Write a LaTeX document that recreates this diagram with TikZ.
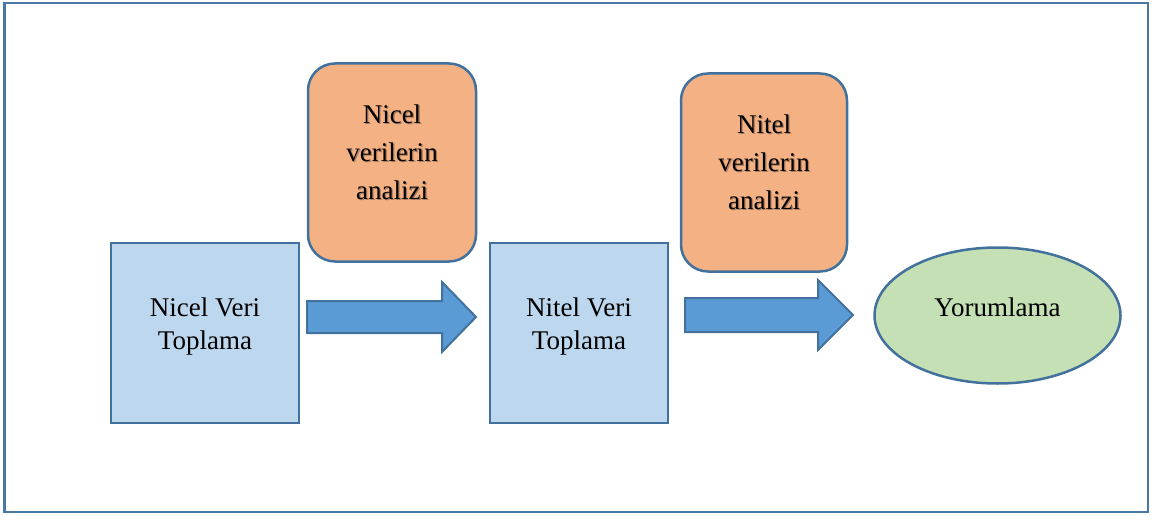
\documentclass[tikz,border=0pt]{standalone}
\usepackage{fontspec}
\setmainfont{Liberation Serif}
\usetikzlibrary{calc,shapes.geometric}

\definecolor{edgeblue}{HTML}{41719C}
\definecolor{frameblue}{HTML}{4A78A6}
\definecolor{boxblue}{HTML}{BDD7EE}
\definecolor{boxorange}{HTML}{F4B183}
\definecolor{arrowblue}{HTML}{5B9BD5}
\definecolor{ovalgreen}{HTML}{C5E0B4}

\tikzset{
  every node/.style={inner sep=0pt, outer sep=0pt},
  collectbox/.style={draw=edgeblue, line width=2.5pt, fill=boxblue, rectangle},
  analysisbox/.style={draw=edgeblue, line width=2.5pt, fill=boxorange, rectangle, rounded corners=27pt},
  resultoval/.style={draw=edgeblue, line width=2.5pt, fill=ovalgreen, ellipse},
  blockarrow/.style={draw=edgeblue, line width=2pt, fill=arrowblue, line join=miter},
  twoline/.style={align=center, font=\fontsize{27}{33}\selectfont},
  threeline/.style={align=center, font=\fontsize{27}{38}\selectfont},
  shade/.style={text=black, opacity=0.3},
}

\begin{document}
\begin{tikzpicture}[x=1pt, y=-1pt]
  \useasboundingbox (0,0) rectangle (1154,516);
  % outer frame
  \draw[frameblue, line width=2.5pt] (4.5,3) rectangle (1148,512);

  % shapes
  \node[collectbox, minimum width=188pt, minimum height=180pt] (b1) at (205,333) {};
  \node[collectbox, minimum width=178pt, minimum height=180pt] (b2) at (579,333) {};
  \node[analysisbox, minimum width=168pt, minimum height=198pt] (o1) at (392,162.5) {};
  \node[analysisbox, minimum width=166pt, minimum height=198pt] (o2) at (764,172.5) {};
  \node[resultoval, minimum width=246pt, minimum height=136pt] (ov) at (997.5,315.5) {};

  % block arrows between the stages (start at the top-left corner of the shaft)
  \draw[blockarrow] ($(b1.east)+(8,-32)$) coordinate (a1)
     -- ++(135,0) -- ++(0,-19) -- ++(34,35) -- ++(-34,35) -- ++(0,-19) -- ++(-135,0) -- cycle;
  \draw[blockarrow] ($(b2.east)+(17,-35)$) coordinate (a2)
     -- ++(133,0) -- ++(0,-18) -- ++(35,35) -- ++(-35,35) -- ++(0,-18) -- ++(-133,0) -- cycle;

  % labels
  \node[twoline] (t1) at ($(b1)+(0,-7)$) {\strut Nicel Veri\\\strut Toplama};
  \node[twoline] (t2) at ($(b2)+(0,-7)$) {\strut Nitel Veri\\\strut Toplama};

  \node[threeline, shade] (s3) at ($(o1)+(1.3,-7.7)$) {\strut Nicel\\\strut verilerin\\\strut analizi};
  \node[threeline] (t3) at ($(o1)+(0,-9)$) {\strut Nicel\\\strut verilerin\\\strut analizi};
  \node[threeline, shade] (s4) at ($(o2)+(1.3,-7.7)$) {\strut Nitel\\\strut verilerin\\\strut analizi};
  \node[threeline] (t4) at ($(o2)+(0,-9)$) {\strut Nitel\\\strut verilerin\\\strut analizi};

  \node[font=\fontsize{27}{33}\selectfont, anchor=base] (t5) at ($(ov)+(0,0.5)$) {Yorumlama};
\end{tikzpicture}
\end{document}
